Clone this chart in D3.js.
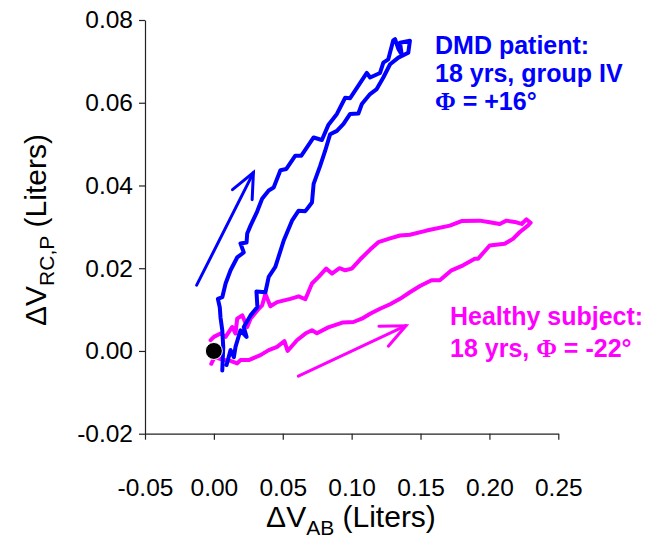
<!DOCTYPE html>
<html><head><meta charset="utf-8">
<script src="https://cdn.jsdelivr.net/npm/d3@7"></script>
<style>body{margin:0;background:#fff}svg{display:block}</style>
</head><body>
<svg id="chart" width="654" height="544"></svg>
<script>
// ---- data ----
const xTicks = [-0.05, 0.00, 0.05, 0.10, 0.15, 0.20, 0.25];
const xTickLabels = ["-0.05", "0.00", "0.05", "0.10", "0.15", "0.20", "0.25"];
const yTicks = [-0.02, 0.00, 0.02, 0.04, 0.06, 0.08];
const yTickLabels = ["-0.02", "0.00", "0.02", "0.04", "0.06", "0.08"];

// DMD patient loop (dV_AB, dV_RC,P) in liters
const dmdX = [0.0061,0.0068,0.0061,0.0048,0.0043,0.0029,0.0061,0.0085,0.0121,0.0169,0.0217,0.0193,0.0237,0.0242,0.0266,0.0314,0.0350,0.0398,0.0434,0.0483,0.0526,0.0591,0.0635,0.0724,0.0784,0.0832,0.0893,0.0953,0.0989,0.1110,0.1134,0.1206,0.1230,0.1266,0.1302,0.1315,0.1339,0.1363,0.1351,0.1423,0.1411,0.1339,0.1279,0.1230,0.1182,0.1134,0.1074,0.1049,0.0989,0.0941,0.0893,0.0844,0.0808,0.0772,0.0724,0.0712,0.0664,0.0615,0.0567,0.0507,0.0446,0.0398,0.0374,0.0309,0.0316,0.0266,0.0217,0.0237,0.0193,0.0157,0.0145,0.0121,0.0092];
const dmdY = [-0.0047,0.0009,0.0050,0.0081,0.0105,0.0126,0.0130,0.0163,0.0195,0.0226,0.0238,0.0260,0.0262,0.0284,0.0303,0.0337,0.0368,0.0388,0.0395,0.0437,0.0440,0.0472,0.0472,0.0516,0.0510,0.0547,0.0573,0.0612,0.0611,0.0672,0.0661,0.0672,0.0697,0.0705,0.0751,0.0754,0.0730,0.0717,0.0745,0.0750,0.0721,0.0709,0.0693,0.0661,0.0633,0.0621,0.0597,0.0574,0.0573,0.0549,0.0532,0.0524,0.0484,0.0448,0.0404,0.0359,0.0338,0.0339,0.0315,0.0267,0.0203,0.0179,0.0142,0.0144,0.0106,0.0086,0.0058,0.0034,0.0050,0.0010,-0.0015,0.0002,-0.0034];

// Healthy subject loop
const healthyX = [-0.0019,0.0005,0.0061,0.0121,0.0169,0.0193,0.0253,0.0338,0.0398,0.0459,0.0512,0.0535,0.0603,0.0664,0.0712,0.0748,0.0830,0.0938,0.1013,0.1074,0.1134,0.1206,0.1279,0.1351,0.1423,0.1496,0.1580,0.1640,0.1725,0.1809,0.1894,0.1918,0.2002,0.2111,0.2171,0.2219,0.2279,0.2299,0.2268,0.2234,0.2195,0.2123,0.2075,0.2002,0.1930,0.1797,0.1713,0.1544,0.1423,0.1351,0.1279,0.1194,0.1134,0.1061,0.1001,0.0953,0.0912,0.0857,0.0815,0.0760,0.0712,0.0664,0.0615,0.0555,0.0459,0.0410,0.0374,0.0350,0.0326,0.0266,0.0242,0.0206,0.0169,0.0157,0.0133,0.0085,0.0048,0.0000,-0.0024];
const healthyY = [-0.0031,-0.0015,-0.0021,-0.0024,-0.0030,-0.0022,-0.0022,-0.0010,0.0002,0.0010,0.0024,0.0000,0.0026,0.0042,0.0050,0.0043,0.0057,0.0069,0.0070,0.0078,0.0090,0.0102,0.0113,0.0126,0.0142,0.0157,0.0171,0.0171,0.0195,0.0207,0.0223,0.0223,0.0255,0.0259,0.0271,0.0287,0.0303,0.0310,0.0318,0.0307,0.0311,0.0315,0.0307,0.0311,0.0315,0.0314,0.0303,0.0291,0.0281,0.0279,0.0272,0.0263,0.0245,0.0221,0.0199,0.0195,0.0200,0.0187,0.0199,0.0179,0.0163,0.0125,0.0132,0.0126,0.0118,0.0108,0.0138,0.0110,0.0102,0.0078,0.0058,0.0086,0.0078,0.0042,0.0058,0.0034,0.0042,0.0034,0.0026];

// direction arrows [x0, y0, x1, y1]
const dmdArrow = [-0.0125, 0.0159, 0.0287, 0.0431];
const healthyArrow = [0.0613, -0.0061, 0.1394, 0.0061];
// start point
const originPoint = [0, 0];

const dmdLabel = ["DMD patient:", "18 yrs, group IV", "Φ = +16°"];
const healthyLabel = ["Healthy subject:", "18 yrs, Φ = -22°"];

// ---- chart ----
const svg = d3.select("#chart");
const x = d3.scaleLinear().domain([-0.05, 0.25]).range([145, 558.3]);
const y = d3.scaleLinear().domain([-0.02, 0.08]).range([433.7, 20]);
const font = "'Liberation Sans', Arial, Helvetica, sans-serif";
const axisColor = "#222";

// y axis
const yAxis = svg.append("g").attr("transform", "translate(145,0)")
  .call(d3.axisLeft(y).tickValues(yTicks).tickSize(6).tickSizeOuter(0)
    .tickFormat((d, i) => yTickLabels[i]));
yAxis.selectAll("text").attr("font-family", font).attr("font-size", 24.5).attr("fill", "#000").attr("x", -12);
yAxis.selectAll("line,path").attr("stroke", axisColor).attr("stroke-width", 1.2);

// x axis
const xAxis = svg.append("g").attr("transform", "translate(0,433.7)")
  .call(d3.axisBottom(x).tickValues(xTicks).tickSize(6).tickSizeOuter(0)
    .tickFormat((d, i) => xTickLabels[i]));
xAxis.selectAll("text").attr("font-family", font).attr("font-size", 24.5).attr("fill", "#000").attr("y", 62).attr("dy", 0);
xAxis.selectAll("line,path").attr("stroke", axisColor).attr("stroke-width", 1.2);

// axis titles
const xt = svg.append("text").attr("x", 351).attr("y", 527).attr("text-anchor", "middle")
  .attr("font-family", font).attr("font-size", 30).attr("fill", "#000");
xt.append("tspan").text("ΔV");
xt.append("tspan").attr("font-size", 21).attr("dy", 8).text("AB");
xt.append("tspan").attr("dy", -8).text(" (Liters)");

const yt = svg.append("text").attr("transform", "translate(46,230) rotate(-90)").attr("text-anchor", "middle")
  .attr("font-family", font).attr("font-size", 30).attr("fill", "#000");
yt.append("tspan").text("ΔV");
yt.append("tspan").attr("font-size", 21).attr("dy", 8).text("RC,P");
yt.append("tspan").attr("dy", -8).text(" (Liters)");

// loops
const line = d3.line().x(d => x(d[0])).y(d => y(d[1]));
const dmd = dmdX.map((v, i) => [v, dmdY[i]]);
const healthy = healthyX.map((v, i) => [v, healthyY[i]]);

svg.append("path").datum(healthy).attr("d", line).attr("fill", "none")
  .attr("stroke", "#FF00FF").attr("stroke-width", 4).attr("stroke-linejoin", "round").attr("stroke-linecap", "round");
svg.append("path").datum(dmd).attr("d", line).attr("fill", "none")
  .attr("stroke", "#0000FF").attr("stroke-width", 4).attr("stroke-linejoin", "round").attr("stroke-linecap", "round");

// arrows
function arrow(a, color) {
  const x0 = x(a[0]), y0 = y(a[1]), x1 = x(a[2]), y1 = y(a[3]);
  const ang = Math.atan2(y1 - y0, x1 - x0), L = 27, spread = 0.42;
  const g = svg.append("g").attr("stroke", color).attr("stroke-width", 3).attr("fill", "none")
    .attr("stroke-linecap", "round");
  g.append("line").attr("x1", x0).attr("y1", y0).attr("x2", x1).attr("y2", y1);
  g.append("path").attr("d",
    `M${x1 - L * Math.cos(ang - spread)},${y1 - L * Math.sin(ang - spread)}L${x1},${y1}L${x1 - L * Math.cos(ang + spread)},${y1 - L * Math.sin(ang + spread)}`);
}
arrow(dmdArrow, "#0000FF");
arrow(healthyArrow, "#FF00FF");

// origin dot
svg.append("circle").attr("cx", x(originPoint[0])).attr("cy", y(originPoint[1])).attr("r", 8.5)
  .attr("fill", "#000").attr("stroke", "#fff").attr("stroke-width", 1);

// annotations
function label(lines, x0, y0, dy, color) {
  lines.forEach((s, i) => {
    const t = svg.append("text").attr("x", x0).attr("y", y0 + i * dy)
      .attr("font-family", font).attr("font-size", 25).attr("font-weight", "bold").attr("fill", color);
    const parts = s.split("Φ");
    parts.forEach((p, j) => {
      if (j > 0) t.append("tspan").attr("font-family", "'Liberation Serif', 'Times New Roman', serif").text("Φ");
      if (p) t.append("tspan").text(p);
    });
  });
}
label(dmdLabel, 435, 54, 28, "#0000FF");
label(healthyLabel, 450, 325, 32, "#FF00FF");
</script>
</body></html>
